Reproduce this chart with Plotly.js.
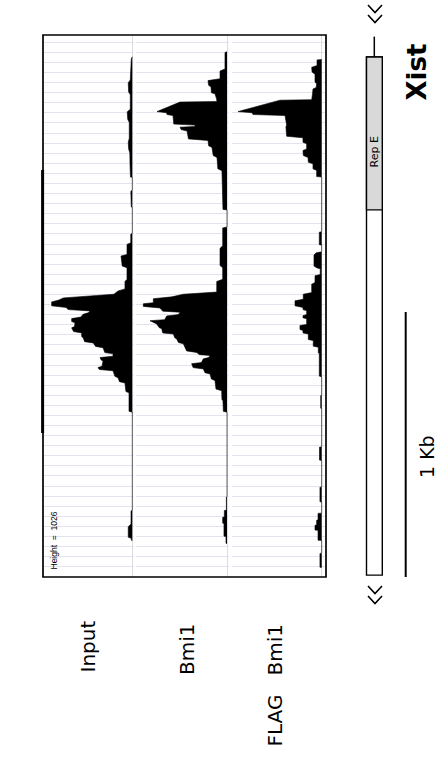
<!DOCTYPE html>
<html><head><meta charset="utf-8">
<script src="https://cdn.plot.ly/plotly-3.0.1.min.js"></script>
<style>html,body{margin:0;padding:0;background:#fff}</style>
</head><body><div id="chart" style="width:438px;height:769px"></div>
<script>
// ---------- DATA ----------
const trackNames = ['Input', 'Bmi1', 'FLAG   Bmi1'];
const geneName = 'Xist';
const heightLabel = 'Height  =  1026';
const domainLabel = 'Rep E';
const scaleLabel = '1 Kb';
// genomic positions (bp from window start) and read coverage (outline vertices)
const inputPos = [82,90,170,180,215,225,280,290,318,330,390,405,430,445,490,536,537,
  585,590,608,612,649,650,
  748,752,784,790,828,834,872,878,922,930,958,966,978,983,992,1000,1007,1022,1028,1036,1041,1048,1054,1064,1070,1081,1086,1100,1105,1119,1124,1138,1143,1157,1162,1175,1180,1198,1203,1212,1217,1226,1230,1250,1255,1262,1267,1288,1293,1308,1313,1345,1350,1420,1423,
  1793,1796,1845,1855,1895,1899,1906,1907];
const inputVal = [0,11,22,44,40,22,22,55,50,33,33,44,40,27,25,20,0,
  0,16,16,11,11,0,
  0,17,17,58,58,123,110,58,58,80,80,156,200,388,752,800,879,879,720,700,461,480,537,560,661,661,625,630,661,640,552,552,534,520,425,400,319,300,210,210,352,340,319,330,374,360,210,190,156,140,80,70,36,36,0,
  0,14,14,44,44,11,11,0];
const bmi1Pos = [63,66,128,136,165,172,190,196,218,222,240,251,253,289,293,300,304,336,340,345,348,357,362,392,398,418,424,455,462,505,512,580,588,658,660,
  724,728,795,805,870,878,922,930,970,978,988,995,1010,1014,1024,1030,1042,1046,1055,1060,1074,1078,1086,1090,1104,1108,1124,1128,1142,1147,1160,1165,1192,1198,1206,1209,1217,1222,1236,1240,1255,1260,1274,1279,1298,1304,1336,1342,1375,1380,1420,1423,
  1742,1743,1793,1794,1819,1820,1842,1843,1891,1892,1918,1919];
const bmi1Val = [0,22,22,76,76,207,200,174,170,131,115,109,512,763,660,654,589,580,349,350,512,500,436,420,207,200,164,150,109,100,55,50,44,44,0,
  0,47,47,76,76,47,47,112,112,476,600,803,803,912,912,730,700,512,530,657,680,839,800,766,740,712,700,585,570,548,530,476,440,330,300,185,200,258,280,385,370,258,240,185,170,131,120,58,55,44,40,0,
  0,7,7,29,29,47,47,33,33,11,11,0];
const flagPos = [92,94,115,122,140,148,178,184,198,204,222,244,246,289,293,300,304,340,346,382,388,405,410,430,436,455,462,480,486,505,511,534,536,
  742,744,791,793,818,822,830,872,879,882,904,908,934,940,972,978,997,1003,1022,1028,1036,1040,1055,1059,1067,1071,1092,1096,1111,1115,1124,1128,1149,1153,1174,1178,1199,1203,1287,1290,1359,1360,1408,1409,
  1554,1555,1604,1605,1705,1706,1761,1762,1804,1805,1830,1831,1849,1850,1868,1869,1906,1907,1955,1956,2008,2009];
const flagVal = [0,51,51,109,105,73,73,55,60,95,100,109,455,912,760,749,400,382,390,382,204,204,164,164,204,200,149,146,95,95,55,55,0,
  0,26,26,0,0,60,84,84,50,16,16,73,73,109,109,201,201,291,291,204,204,164,164,204,204,164,164,237,237,204,204,146,146,92,92,37,37,26,26,0,0,11,11,0,
  0,24,24,0,0,19,19,0,0,40,40,55,55,73,73,40,40,0,0,19,19,0];
// gene model (bp)
const leaderStart = 6, geneStart = 83, repEEnd = 660, geneEnd = 2038;
const scaleStart = 1045, scaleEnd = 2045;
const windowLen = 2045;
const gridStart = 27.6, gridStep = 38.05;

// ---------- LAYOUT HELPERS ----------
const W = 438, H = 769;
const px = x => x / W;
const py = y => 1 - y / H;
const k = 10.9; // coverage units per pixel
const baselines = [132.3, 227, 321.7];
const doms = [[44, 133.5], [136, 229], [232, 325]];
const font = 'DejaVu Sans, Liberation Sans, sans-serif';

const series = [[inputPos, inputVal], [bmi1Pos, bmi1Val], [flagPos, flagVal]];
const traces = series.map((s, i) => ({
  type: 'scatter', mode: 'lines', x: s[1], y: s[0],
  xaxis: i === 0 ? 'x' : 'x' + (i + 1), yaxis: 'y',
  fill: 'tozerox', fillcolor: '#000', line: {color: '#000', width: 0.6},
  hoverinfo: 'skip', showlegend: false
}));

const layout = {
  width: W, height: H, margin: {l: 0, r: 0, t: 0, b: 0},
  paper_bgcolor: '#fff', plot_bgcolor: 'rgba(0,0,0,0)', showlegend: false,
  yaxis: {domain: [py(577), py(35)], range: [windowLen, 0], tick0: gridStart, dtick: gridStep,
    showgrid: true, gridcolor: '#e3e3ef', gridwidth: 1, zeroline: false, showticklabels: false, ticks: '', showline: false, anchor: 'x'},
  shapes: [], annotations: []
};
doms.forEach((d, i) => {
  const name = i === 0 ? 'xaxis' : 'xaxis' + (i + 1);
  layout[name] = {domain: [px(d[0]), px(d[1])], range: [(baselines[i] - d[0]) * k, (baselines[i] - d[1]) * k],
    showgrid: false, zeroline: true, zerolinecolor: '#dddddd', zerolinewidth: 1,
    showticklabels: false, ticks: '', showline: false, anchor: 'y'};
});

const S = layout.shapes;
// frame
S.push({type: 'rect', xref: 'paper', yref: 'paper', x0: px(43), x1: px(326), y0: py(577), y1: py(35), line: {color: '#000', width: 1.7}});
S.push({type: 'line', xref: 'paper', yref: 'paper', x0: px(42.6), x1: px(42.6), y0: py(170), y1: py(433), line: {color: '#000', width: 3}});
// gene model
S.push({type: 'line', xref: 'paper', yref: 'y', x0: px(374.3), x1: px(374.3), y0: leaderStart, y1: geneStart, line: {color: '#000', width: 1.5}});
S.push({type: 'rect', xref: 'paper', yref: 'y', x0: px(366.5), x1: px(382.3), y0: geneStart, y1: geneEnd, fillcolor: '#fff', line: {color: '#000', width: 1.4}});
S.push({type: 'rect', xref: 'paper', yref: 'y', x0: px(366.5), x1: px(382.3), y0: geneStart, y1: repEEnd, fillcolor: '#d9d9d9', line: {color: '#000', width: 1.4}});
// scale bar
S.push({type: 'line', xref: 'paper', yref: 'y', x0: px(405.7), x1: px(405.7), y0: scaleStart, y1: scaleEnd, line: {color: '#000', width: 2}});
// chevrons
function chev(cx, top, h, w) {
  return {type: 'path', xref: 'paper', yref: 'paper',
    path: `M ${px(cx - w)},${py(top)} L ${px(cx)},${py(top + h)} L ${px(cx + w)},${py(top)}`,
    line: {color: '#000', width: 1.6}};
}
[5, 15, 586, 596].forEach(t => S.push(chev(375, t, 7.5, 7)));

const A = layout.annotations;
function txt(text, x, y, size, opts) {
  A.push(Object.assign({text: text, xref: 'paper', yref: 'paper', x: px(x), y: py(y), showarrow: false,
    textangle: -90, font: {family: font, size: size, color: '#000'}, xanchor: 'center', yanchor: 'middle'}, opts || {}));
}
txt('<b>' + geneName + '</b>', 416.5, 72, 26);
txt(trackNames[0], 87.5, 619, 20, {yanchor: 'top'});
txt(trackNames[1], 186.5, 622, 20, {yanchor: 'top'});
txt(trackNames[2], 274, 622, 20, {yanchor: 'top'});
txt(heightLabel, 53.5, 541, 8.5, {font: {family: 'Liberation Sans, Arial, sans-serif', size: 8.5, color: '#000'}});
txt(domainLabel, 374.5, 152, 11, {font: {family: font, size: 11, color: '#000'}});
txt(scaleLabel, 427, 457, 19);

Plotly.newPlot('chart', traces, layout, {displayModeBar: false, staticPlot: true});
</script></body></html>
